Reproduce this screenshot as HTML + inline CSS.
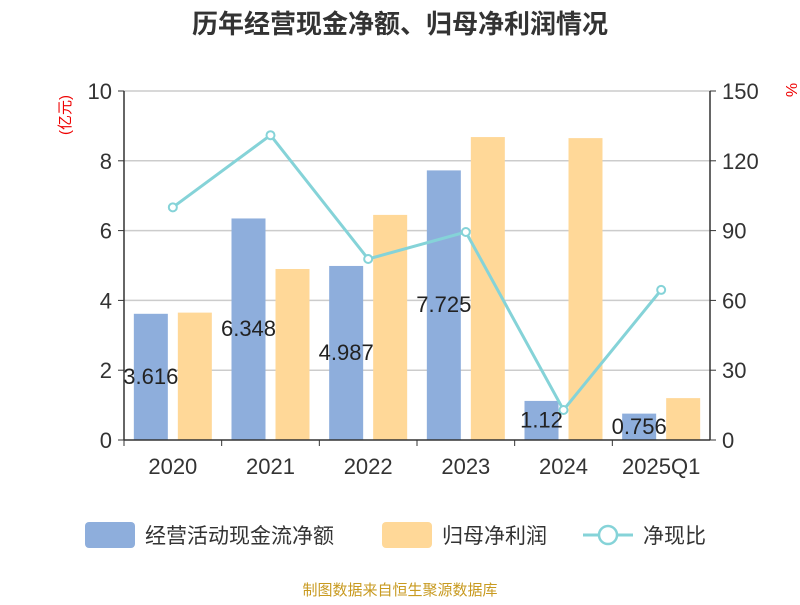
<!DOCTYPE html>
<html><head><meta charset="utf-8"><style>
body{margin:0;background:#fff;font-family:"Liberation Sans","Noto Sans CJK SC",sans-serif}
</style></head><body>
<svg width="800" height="600" xmlns="http://www.w3.org/2000/svg" font-family="Liberation Sans, Noto Sans CJK SC, sans-serif">
<text x="400" y="33" text-anchor="middle" font-size="26" font-weight="bold" fill="#333">历年经营现金净额、归母净利润情况</text>
<g id="grid"></g><g id="bars"></g><g id="line"></g><g id="axes"></g>
<text x="70" y="115" transform="rotate(-90 70 115)" text-anchor="middle" font-size="15" fill="#e00">(亿元)</text>
<text x="786" y="90" transform="rotate(90 786 90)" text-anchor="middle" font-size="16" fill="#e00">%</text>
<g>
<rect x="85" y="522" width="50" height="26" rx="4" fill="#8eaedc"/>
<text x="145" y="543" font-size="21" fill="#333">经营活动现金流净额</text>
<rect x="382" y="522" width="50" height="26" rx="4" fill="#ffd898"/>
<text x="442" y="543" font-size="21" fill="#333">归母净利润</text>
<line x1="583" y1="535" x2="633" y2="535" stroke="#85d3d8" stroke-width="3"/>
<circle cx="608" cy="535" r="9" fill="#fff" stroke="#85d3d8" stroke-width="2.5"/>
<text x="643" y="543" font-size="21" fill="#333">净现比</text>
</g>
<text x="400" y="595" text-anchor="middle" font-size="15" fill="#c89a20">制图数据来自恒生聚源数据库</text>
</svg>
<script>
const categories=["2020","2021","2022","2023","2024","2025Q1"];
const cashflow=[3.616,6.348,4.987,7.725,1.12,0.756];
const profit=[3.65,4.9,6.45,8.68,8.65,1.2];
const ratio=[100,131,77.8,89.4,12.9,64.5];
const leftTicks=[0,2,4,6,8,10];
const rightTicks=[0,30,60,90,120,150];
const NS="http://www.w3.org/2000/svg";
const X0=124,X1=710,Y0=440,Y1=91;
const band=(X1-X0)/categories.length;
const xc=i=>X0+band*(i+0.5);
const yL=v=>Y0-(v/10)*(Y0-Y1);
const yR=v=>Y0-(v/150)*(Y0-Y1);
function mk(t,a,p){const e=document.createElementNS(NS,t);for(const k in a)e.setAttribute(k,a[k]);document.getElementById(p).appendChild(e);return e;}
leftTicks.forEach((t,i)=>{
 if(t>0){const g=mk('line',{x1:X0,x2:X1,y1:yL(t),y2:yL(t),stroke:'#ccc','stroke-width':1.5},'grid');
 
 }
 const l=mk('text',{x:X0-12,y:yL(t)+8,'text-anchor':'end','font-size':22,fill:'#333'},'axes');l.textContent=t;
 
 
 mk('line',{x1:X0-6,x2:X0,y1:yL(t),y2:yL(t),stroke:'#333'},'axes');
});
rightTicks.forEach(t=>{
 const l=mk('text',{x:X1+12,y:yR(t)+8,'font-size':22,fill:'#333'},'axes');l.textContent=t;
 
 
 mk('line',{x1:X1,x2:X1+6,y1:yR(t),y2:yR(t),stroke:'#333'},'axes');
});
mk('line',{x1:X0,x2:X0,y1:Y1,y2:Y0,stroke:'#333','stroke-width':1.5},'axes');
mk('line',{x1:X1,x2:X1,y1:Y1,y2:Y0,stroke:'#333','stroke-width':1.5},'axes');
mk('line',{x1:X0,x2:X1,y1:Y0,y2:Y0,stroke:'#333','stroke-width':1.5},'axes');
categories.forEach((c,i)=>{
 mk('line',{x1:X0+band*i,x2:X0+band*i,y1:Y0,y2:Y0+6,stroke:'#333'},'axes');
 const l=mk('text',{x:xc(i),y:Y0+34,'text-anchor':'middle','font-size':22,fill:'#333'},'axes');l.textContent=c;
 
 
 const b=mk('rect',{x:xc(i)-39,y:yL(cashflow[i]),width:34,height:Y0-yL(cashflow[i]),fill:'#8eaedc'},'bars');
 
 
 const o=mk('rect',{x:xc(i)+5,y:yL(profit[i]),width:34,height:Y0-yL(profit[i]),fill:'#ffd898'},'bars');
 
 
});
mk('line',{x1:X1,x2:X1+6,y1:Y0,y2:Y0,stroke:'#333'},'axes');
const pts=ratio.map((v,i)=>xc(i)+','+yR(v)).join(' ');
const pl=mk('polyline',{points:pts,fill:'none',stroke:'#85d3d8','stroke-width':3},'line');


ratio.forEach((v,i)=>{
 const p=mk('circle',{cx:xc(i),cy:yR(v),r:4,fill:'#fff',stroke:'#85d3d8','stroke-width':2},'line');
 
 
});
cashflow.forEach((v,i)=>{
 const t=mk('text',{x:xc(i)-22,y:(yL(v)+Y0)/2+7,'text-anchor':'middle','font-size':22,fill:'#222'},'line');
 t.textContent=v;
 
 
});
</script>
</body></html>
